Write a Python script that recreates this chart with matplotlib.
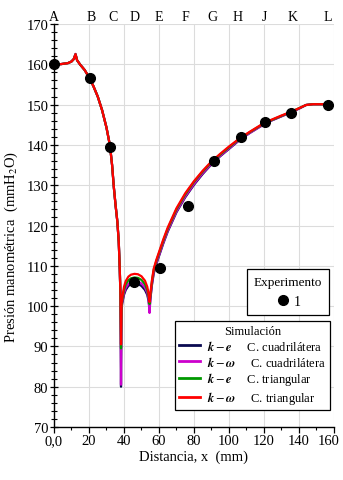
import matplotlib
matplotlib.use("Agg")
import matplotlib.pyplot as plt
from matplotlib.ticker import MultipleLocator, FixedLocator, FixedFormatter
from matplotlib.lines import Line2D
from matplotlib.transforms import ScaledTranslation

plt.rcParams['font.family'] = ['Liberation Serif', 'DejaVu Serif']
plt.rcParams['mathtext.fontset'] = 'stix'

# ---------------- data ----------------
x_sim = [0, 4, 8, 10, 11.3, 12.3, 13.2, 15, 17.5, 20,
         22.5, 25, 27.5, 30, 32, 33.2, 34.2, 35.2, 36.2, 37.0,
         37.6, 38.0, 38.3, 38.6, 39.0, 40.0, 41.0, 42.5, 44.0, 46.0,
         48.0, 50.0, 52.0, 53.3, 54.0, 54.6, 55.2, 56.0, 57.0, 58.5,
         60.0, 62.5, 65.0, 70.0, 75.0, 80.0, 85.0, 90.0, 95.0, 100.0,
         106.0, 112.0, 118.0, 124.0, 130.0, 136.0, 140.0, 144.0, 148.0, 152.0,
         156.0]

y_ke_quad = [160.0, 160.05, 160.3, 160.7, 161.3, 162.5, 161.0, 159.9, 158.6, 156.8,
             154.6, 152.0, 148.6, 144.3, 139.8, 135.0, 129.5, 125.0, 121.0, 116.0,
             109.0, 102.0, 80.0, 99.2, 100.7, 102.8, 104.0, 105.0, 105.4, 105.6,
             105.5, 105.0, 104.0, 102.8, 101.4, 99.5, 102.2, 105.3, 108.1, 110.4,
             112.4, 115.6, 118.5, 123.3, 127.0, 130.1, 132.8, 135.2, 137.2, 139.0,
             141.2, 143.0, 144.6, 146.0, 147.1, 148.2, 149.0, 149.9, 150.1, 150.1,
             150.1]

y_kw_quad = [160.0, 160.05, 160.3, 160.7, 161.3, 162.6, 161.0, 159.9, 158.6, 156.8,
             154.6, 152.0, 148.6, 144.3, 139.8, 135.0, 129.5, 125.0, 121.0, 116.0,
             109.0, 102.0, 80.5, 99.5, 101.0, 103.2, 104.5, 105.5, 106.0, 106.2,
             106.1, 105.6, 104.6, 103.3, 101.8, 98.3, 102.5, 105.6, 108.4, 110.7,
             112.6, 115.8, 118.7, 123.5, 127.2, 130.3, 133.0, 135.3, 137.3, 139.1,
             141.3, 143.0, 144.6, 146.0, 147.1, 148.2, 149.0, 149.9, 150.1, 150.1,
             150.1]

y_ke_tri = [160.0, 160.05, 160.3, 160.7, 161.3, 162.5, 161.0, 159.9, 158.6, 156.8,
            154.6, 152.0, 148.6, 144.3, 139.8, 135.0, 129.5, 125.0, 121.0, 116.0,
            109.0, 102.3, 89.5, 100.0, 101.5, 104.0, 105.4, 106.4, 106.9, 107.1,
            107.0, 106.5, 105.4, 104.0, 102.6, 100.5, 103.2, 106.2, 109.0, 111.2,
            113.1, 116.3, 119.2, 124.0, 127.7, 130.8, 133.4, 135.7, 137.6, 139.4,
            141.5, 143.2, 144.8, 146.1, 147.2, 148.3, 149.1, 149.9, 150.1, 150.1,
            150.1]

y_kw_tri = [160.0, 160.05, 160.3, 160.7, 161.3, 162.5, 161.0, 159.9, 158.6, 156.8,
            154.6, 152.0, 148.6, 144.3, 139.8, 135.0, 129.5, 125.0, 121.0, 116.0,
            109.0, 102.5, 90.5, 100.5, 102.0, 104.8, 106.2, 107.3, 107.8, 108.0,
            107.9, 107.4, 106.3, 104.8, 103.2, 101.0, 103.5, 106.5, 109.3, 111.5,
            113.4, 116.6, 119.5, 124.3, 128.0, 131.0, 133.6, 135.9, 137.8, 139.6,
            141.6, 143.3, 144.9, 146.2, 147.3, 148.3, 149.1, 149.9, 150.1, 150.1,
            150.1]

x_exp = [0.2, 20.4, 31.8, 46.0, 60.7, 76.6, 91.3, 106.7, 120.3, 135.6, 156.6]
y_exp = [160.0, 156.6, 139.5, 106.0, 109.5, 124.8, 136.0, 142.0, 145.7, 147.9, 149.9]
station_labels = ['A', 'B', 'C', 'D', 'E', 'F', 'G', 'H', 'J', 'K', 'L']
station_x = [0.2, 21.4, 33.6, 46.1, 59.7, 75.3, 90.4, 104.8, 120.3, 136.3, 156.2]

sim_series = [
    (y_ke_quad, '#0a0a50', r'$\mathbfit{k}-\mathbfit{e}$', 'C. cuadrilátera'),
    (y_kw_quad, '#cc00cc', r'$\mathbfit{k}-\mathbfit{\omega}$', 'C. cuadrilátera'),
    (y_ke_tri, '#009900', r'$\mathbfit{k}-\mathbfit{e}$', 'C. triangular'),
    (y_kw_tri, '#ff0000', r'$\mathbfit{k}-\mathbfit{\omega}$', 'C. triangular'),
]

x_ticks = [0, 20, 40, 60, 80, 100, 120, 140, 160]
x_ticklabels = ['0,0', '20', '40', '60', '80', '100', '120', '140', '160']
y_ticks = [70, 80, 90, 100, 110, 120, 130, 140, 150, 160, 170]

# ---------------- figure ----------------
fig = plt.figure(figsize=(3.43, 4.81), dpi=100)
ax = fig.add_axes([0.1574, 0.1102, 0.8163, 0.8378])

ax.set_xlim(0, 160)
ax.set_ylim(70, 170)

ax.grid(True, color='#dcdcdc', lw=0.8, zorder=0)
ax.set_axisbelow(True)

sim_handles = []
sim_labels = []
for ys, col, model, mesh in sim_series:
    ax.plot(x_sim, ys, color=col, lw=1.6, zorder=3, solid_joinstyle='round')
    sim_handles.append(Line2D([], [], color=col, lw=2))
    sim_labels.append(model + '     ' + mesh)

ax.plot(x_exp, y_exp, 'o', color='black', ms=7, zorder=5, clip_on=False)

for lab, sx in zip(station_labels, station_x):
    ax.text(sx, 171.9, lab, ha='center', va='center', fontsize=10)

ax.xaxis.set_major_locator(FixedLocator(x_ticks))
ax.xaxis.set_major_formatter(FixedFormatter(x_ticklabels))
ax.xaxis.set_minor_locator(MultipleLocator(10))
ax.yaxis.set_major_locator(FixedLocator(y_ticks))
ax.yaxis.set_minor_locator(MultipleLocator(2))

ax.tick_params(axis='both', which='major', labelsize=10.5, length=4, width=0.9, pad=1)
ax.tick_params(axis='x', which='major', direction='out')
ax.tick_params(axis='y', which='major', direction='inout', length=6)
ax.tick_params(axis='x', which='minor', direction='out', length=2.5, width=0.8)
ax.tick_params(axis='y', which='minor', direction='inout', length=4, width=0.8)

# nudge the last x tick label so it stays inside the canvas
last_lbl = ax.get_xticklabels()[-1]
last_lbl.set_transform(last_lbl.get_transform() + ScaledTranslation(-0.05, 0, fig.dpi_scale_trans))

for s in ['top', 'right']:
    ax.spines[s].set_visible(False)
for s in ['left', 'bottom']:
    ax.spines[s].set_linewidth(1.0)
    ax.spines[s].set_color('black')

ax.set_xlabel('Distancia, x  (mm)', fontsize=10.5, labelpad=2)
ax.set_ylabel('Presión manométrica  (mmH$_2$O)', fontsize=10.5)
ax.yaxis.set_label_coords(-0.12, 0.45)

# Experiment legend
exp_handle = Line2D([], [], marker='o', color='black', ls='none', ms=7)
leg1 = ax.legend([exp_handle], ['1'], title='Experimento', loc='upper right',
                 bbox_to_anchor=(0.983, 0.392), fontsize=10, title_fontsize=9.5,
                 frameon=True, fancybox=False, edgecolor='black', framealpha=1,
                 borderpad=0.5, handletextpad=0.3, handlelength=1.0,
                 borderaxespad=0)
leg1.get_frame().set_linewidth(0.9)
ax.add_artist(leg1)

leg2 = ax.legend(sim_handles, sim_labels, title='Simulación', loc='lower right',
                 bbox_to_anchor=(0.986, 0.042), fontsize=9, title_fontsize=9,
                 frameon=True, fancybox=False, edgecolor='black', framealpha=1,
                 borderpad=0.3, handletextpad=0.6, handlelength=1.7,
                 labelspacing=0.15, borderaxespad=0)
leg2.get_frame().set_linewidth(0.9)

fig.savefig('out.png', dpi=100)
